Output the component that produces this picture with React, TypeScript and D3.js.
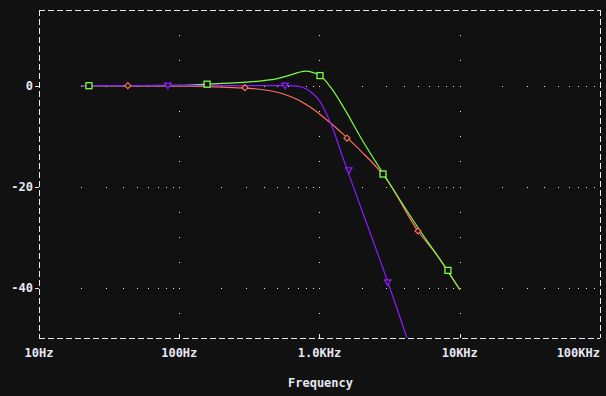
import React from 'react';
import * as d3 from 'd3';

// frequencies (Hz) shared by all three traces
const freqs = [20, 50, 100, 200, 300, 400, 500, 600, 700, 800, 900, 1000, 1200, 1500, 2000, 3000, 5000, 7000, 10000];

// gain in dB (null = off the chart)
const greenDb = [0, 0, 0.05, 0.45, 0.7, 1.0, 1.4, 2.0, 2.6, 2.9, 2.6, 2.1, -0.3, -4.5, -10.6, -18.4, -28.0, -33.9, -40.4];
const redDb = [0, -0.05, -0.1, -0.3, -0.5, -0.8, -1.3, -2.0, -2.8, -3.7, -4.6, -5.6, -7.4, -9.8, -13.1, -18.5, -28.7, -33.8, -40.4];
const purpleDb = [0, 0, 0, 0, 0, 0, 0, 0, -0.1, -0.6, -1.6, -3.0, -7.4, -15.0, -24.6, -38.1, -56.2, null, null];

// marker positions
const greenMarkF = [22.7, 158, 1008, 2838, 8240];
const greenMarkDb = [0, 0.3, 2.0, -17.5, -36.6];
const redMarkF = [43, 294, 1570, 5035];
const redMarkDb = [0, -0.4, -10.4, -28.8];
const purpleMarkF = [83, 568, 1620, 3060];
const purpleMarkDb = [0, 0, -16.8, -39];

const xTicks = [10, 100, 1000, 10000, 100000];
const xTickLabels = ['10Hz', '100Hz', '1.0KHz', '10KHz', '100KHz'];
const yTicks = [0, -20, -40];

const W = 606;
const H = 396;
const margin = { top: 10, right: 6, bottom: 58, left: 39 };
const bg = '#111111';
const axisColor = '#e8e8f2';
const font = '"DejaVu Sans Mono", monospace';

export default function App() {
  const x = d3.scaleLog().domain([10, 100000]).range([margin.left, W - margin.right]);
  const y = d3.scaleLinear().domain([-50, 15]).range([H - margin.bottom, margin.top]);
  const x0 = margin.left, x1 = W - margin.right, y0 = margin.top, y1 = H - margin.bottom;

  const line = d3.line<[number, number | null]>()
    .defined(d => d[1] !== null)
    .x(d => x(d[0]))
    .y(d => y(d[1] as number))
    .curve(d3.curveMonotoneX);

  const series = [
    { name: 'red', color: '#ff6f5e', data: redDb },
    { name: 'green', color: '#7dff45', data: greenDb },
    { name: 'purple', color: '#8a1cff', data: purpleDb },
  ];

  // grid dots: along the labelled dB lines at every minor log position,
  // and along decade lines every 5 dB
  const dots: { cx: number; cy: number }[] = [];
  yTicks.forEach(v => {
    for (let dec = 10; dec < 100000; dec *= 10) {
      for (let m = 1; m < 10; m++) {
        const f = dec * m;
        if (f === 10) continue;
        dots.push({ cx: x(f), cy: y(v) });
      }
    }
  });
  [100, 1000, 10000].forEach(f => {
    for (let v = 10; v >= -45; v -= 5) {
      dots.push({ cx: x(f), cy: y(v) });
    }
  });

  return (
    <svg width={W} height={H} style={{ position: 'absolute', left: 0, top: 0, background: bg }}>
      <rect x={0} y={0} width={W} height={H} fill={bg} />
      <defs>
        <clipPath id="plot">
          <rect x={x0} y={y0} width={x1 - x0} height={y1 - y0} />
        </clipPath>
      </defs>

      {dots.map((d, i) => (
        <rect key={i} x={Math.round(d.cx)} y={Math.round(d.cy)} width={1} height={1} fill="#e8e8d8" />
      ))}

      {/* frame */}
      <g stroke={axisColor} strokeWidth={1} fill="none" shapeRendering="crispEdges">
        <line x1={x0} y1={y0 + 0.5} x2={x1} y2={y0 + 0.5} strokeDasharray="6,3" />
        <line x1={x0} y1={y1 + 0.5} x2={x1} y2={y1 + 0.5} strokeDasharray="6,3" />
        <line x1={x0 + 0.5} y1={y0} x2={x0 + 0.5} y2={y1} strokeDasharray="6,3" />
        <line x1={x1 + 0.5} y1={y0} x2={x1 + 0.5} y2={y1} strokeDasharray="6,3" />
        {xTicks.map(t => (
          <line key={t} x1={Math.round(x(t)) + 0.5} x2={Math.round(x(t)) + 0.5} y1={y1} y2={y1 - 4} />
        ))}
        {yTicks.map(t => (
          <line key={t} x1={x0 - 4} x2={x0} y1={Math.round(y(t)) + 0.5} y2={Math.round(y(t)) + 0.5} />
        ))}
      </g>

      {/* labels */}
      <g fill={axisColor} fontFamily={font} fontWeight="bold" fontSize={12}>
        {xTicks.map((t, i) => {
          const last = i === xTicks.length - 1;
          return (
            <text key={t} x={last ? W - 6 : x(t)} y={357} textAnchor={last ? 'end' : 'middle'}>{xTickLabels[i]}</text>
          );
        })}
        {yTicks.map(t => (
          <text key={t} x={33} y={y(t) + 4} textAnchor="end">{t}</text>
        ))}
        <text x={(x0 + x1) / 2 + 1} y={387} textAnchor="middle">Frequency</text>
      </g>

      {/* traces */}
      <g clipPath="url(#plot)" fill="none" strokeWidth={1.2}>
        {series.map(s => (
          <path key={s.name} d={line(freqs.map((f, i) => [f, s.data[i]] as [number, number | null])) || ''} stroke={s.color} />
        ))}

        {greenMarkF.map((f, i) => (
          <rect key={'g' + i} x={x(f) - 3} y={y(greenMarkDb[i]) - 3} width={6} height={6} stroke="#7dff45" strokeWidth={1.3} fill={bg} />
        ))}
        {redMarkF.map((f, i) => (
          <path key={'r' + i} transform={`translate(${x(f)},${y(redMarkDb[i])})`} d="M0,-3L3,0L0,3L-3,0Z" stroke="#ff6f5e" strokeWidth={1.2} fill={bg} />
        ))}
        {purpleMarkF.map((f, i) => (
          <path key={'p' + i} transform={`translate(${x(f)},${y(purpleMarkDb[i])})`} d="M-4,-2.5H4M-3,-2.5L0,3L3,-2.5" stroke="#8a1cff" strokeWidth={1.3} fill={bg} />
        ))}
      </g>
    </svg>
  );
}
